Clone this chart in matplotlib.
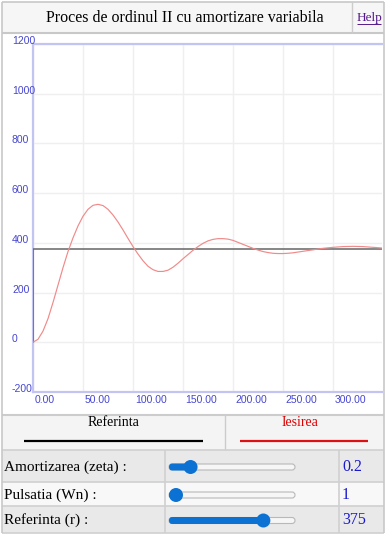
import matplotlib
matplotlib.use("Agg")
import matplotlib.pyplot as plt
from matplotlib.patches import Rectangle, FancyBboxPatch, Circle

# values
t_out = [0, 5, 10, 15, 20, 25, 30, 35, 40, 45, 50, 55, 60, 65, 70, 75, 80, 85, 90,
         95, 100, 105, 110, 115, 120, 125, 130, 135, 140, 145, 150, 155, 160, 165,
         170, 175, 180, 185, 190, 195, 200, 205, 210, 215, 220, 225, 230, 235, 240,
         245, 250, 255, 260, 270, 280, 290, 300, 310, 320, 330, 340, 350]
y_out = [0, 12, 45, 95, 160, 230, 300, 365, 420, 468, 507, 535, 551, 555, 550, 535,
         512, 484, 452, 418, 385, 355, 328, 306, 292, 285, 285, 290, 302, 318, 336,
         353, 370, 385, 398, 408, 414, 417, 417, 415, 410, 402, 394, 386, 378, 371,
         365, 361, 358, 357, 357, 358, 360, 366, 372, 378, 382, 385, 386, 385, 382, 379]
t_ref = [0, 0, 350]
y_ref = [0, 375, 375]

x_ticks = [0, 50, 100, 150, 200, 250, 300]
y_ticks = [-200, 0, 200, 400, 600, 800, 1000, 1200]

title = "Proces de ordinul II cu amortizare variabila"
legend_names = ["Referinta", "Iesirea"]
param_labels = ["Amortizarea (zeta) :", "Pulsatia (Wn) :", "Referinta (r) :"]
param_values = ["0.2", "1", "375"]
slider_pos = [0.13, 0.0, 0.78]

W, H = 387, 539
serif = ["Liberation Serif", "DejaVu Serif"]
sans = ["Liberation Sans", "DejaVu Sans"]

fig = plt.figure(figsize=(W / 100, H / 100), dpi=100)

# page layer in pixel coordinates
bg = fig.add_axes([0, 0, 1, 1], zorder=0)
bg.set_xlim(0, W)
bg.set_ylim(H, 0)
bg.axis("off")


def box(x, y, w, h, fc, ec="none", lw=0):
    bg.add_patch(Rectangle((x, y), w, h, facecolor=fc, edgecolor=ec, linewidth=lw))


def hline(x0, x1, y, c="#cccccc", lw=1.0):
    bg.plot([x0, x1], [y, y], color=c, lw=lw, solid_capstyle="butt")


def vline(x, y0, y1, c="#cccccc", lw=1.0):
    bg.plot([x, x], [y0, y1], color=c, lw=lw, solid_capstyle="butt")


# title bar
box(2, 2, 382, 31, "#f6f6f6")
hline(2, 384, 33, "#c8c8c8", 1.5)
vline(352, 2, 33)
bg.text(185, 18, title, family=serif, fontsize=11.5, ha="center", va="center")
bg.text(369, 18, "Help", family=serif, fontsize=9.5, color="#551a8b",
        ha="center", va="center")
hline(357, 381, 24, "#551a8b", 0.7)

# legend row
box(2, 415, 382, 35, "#f4f4f4")
hline(2, 384, 415, "#cccccc", 1.5)
vline(225, 415, 450)
bg.text(113, 423, legend_names[0], family=serif, fontsize=10, ha="center", va="center")
bg.text(300, 423, legend_names[1], family=serif, fontsize=10, color="#dd0000",
        ha="center", va="center")
hline(24, 203, 440.5, "black", 1.6)
hline(240, 368, 440.5, "#dd1111", 1.6)

# controls table
rows = [(450, 482, "#e9e9e9"), (482, 506, "#f8f8f8"), (506, 533, "#e9e9e9")]
for (y0, y1, c), lab, val, frac in zip(rows, param_labels, param_values, slider_pos):
    box(2, y0, 382, y1 - y0, c)
    hline(2, 384, y0, "#d0d0d0", 1.2)
    yc = (y0 + y1) / 2 + 1
    bg.text(4, yc, lab, family=serif, fontsize=11, ha="left", va="center")
    bg.text(342, yc, val, family=serif, fontsize=11.5, color="#1a1acc",
            ha="left", va="center")
    x0, x1 = 169, 295
    bg.add_patch(FancyBboxPatch((x0, yc - 3), x1 - x0, 6,
                                boxstyle="round,pad=0,rounding_size=3",
                                facecolor="#f6f6f6", edgecolor="#b8b8b8", lw=0.8))
    xt = x0 + 7 + frac * (x1 - x0 - 14)
    bg.add_patch(FancyBboxPatch((x0, yc - 3.5), xt - x0, 7,
                                boxstyle="round,pad=0,rounding_size=3.5",
                                facecolor="#0b72d4", edgecolor="none"))
    bg.add_patch(Circle((xt, yc), 7, facecolor="#0b72d4", edgecolor="none"))
hline(2, 384, 533, "#d0d0d0", 1.2)
vline(165, 450, 533, "#d0d0d0", 1.2)
vline(339, 450, 533, "#d0d0d0", 1.2)

# outer frame
vline(2, 2, 533, "#c8c8c8", 1.2)
vline(384, 2, 533, "#c8c8c8", 1.2)
hline(2, 384, 2, "#c8c8c8", 1.2)

# chart
left, right, top, bottom = 33, 382, 44, 392
ax = fig.add_axes([left / W, 1 - bottom / H, (right - left) / W, (bottom - top) / H],
                  zorder=1)
ax.patch.set_alpha(0)
ax.set_xlim(0, 349)
ax.set_ylim(-200, 1200)
ax.set_xticks(x_ticks)
ax.set_yticks(y_ticks)
ax.tick_params(length=0, labelbottom=False, labelleft=False)
ax.grid(True, color="#efefef", lw=1)
ax.spines["right"].set_visible(False)
for s in ["left", "bottom", "top"]:
    ax.spines[s].set_color("#c4c4f2")
    ax.spines[s].set_linewidth(1.6)

ax.plot(t_ref, y_ref, color="#666666", lw=1.1, zorder=3)
ax.plot(t_out, y_out, color="#f08a8a", lw=0.85, zorder=4)

tick_c = "#4646d2"
for v in y_ticks:
    ax.text(-21 / 349, v, str(v), transform=ax.get_yaxis_transform(),
            family=sans, fontsize=7.5, color=tick_c, ha="left", va="baseline",
            clip_on=False)
for v in x_ticks:
    ax.annotate(f"{v:.2f}", (v, 0), xycoords=ax.get_xaxis_transform(),
                xytext=(2, -3), textcoords="offset pixels",
                family=sans, fontsize=7.5, color=tick_c, ha="left", va="top")

fig.savefig("out.png", dpi=100)
